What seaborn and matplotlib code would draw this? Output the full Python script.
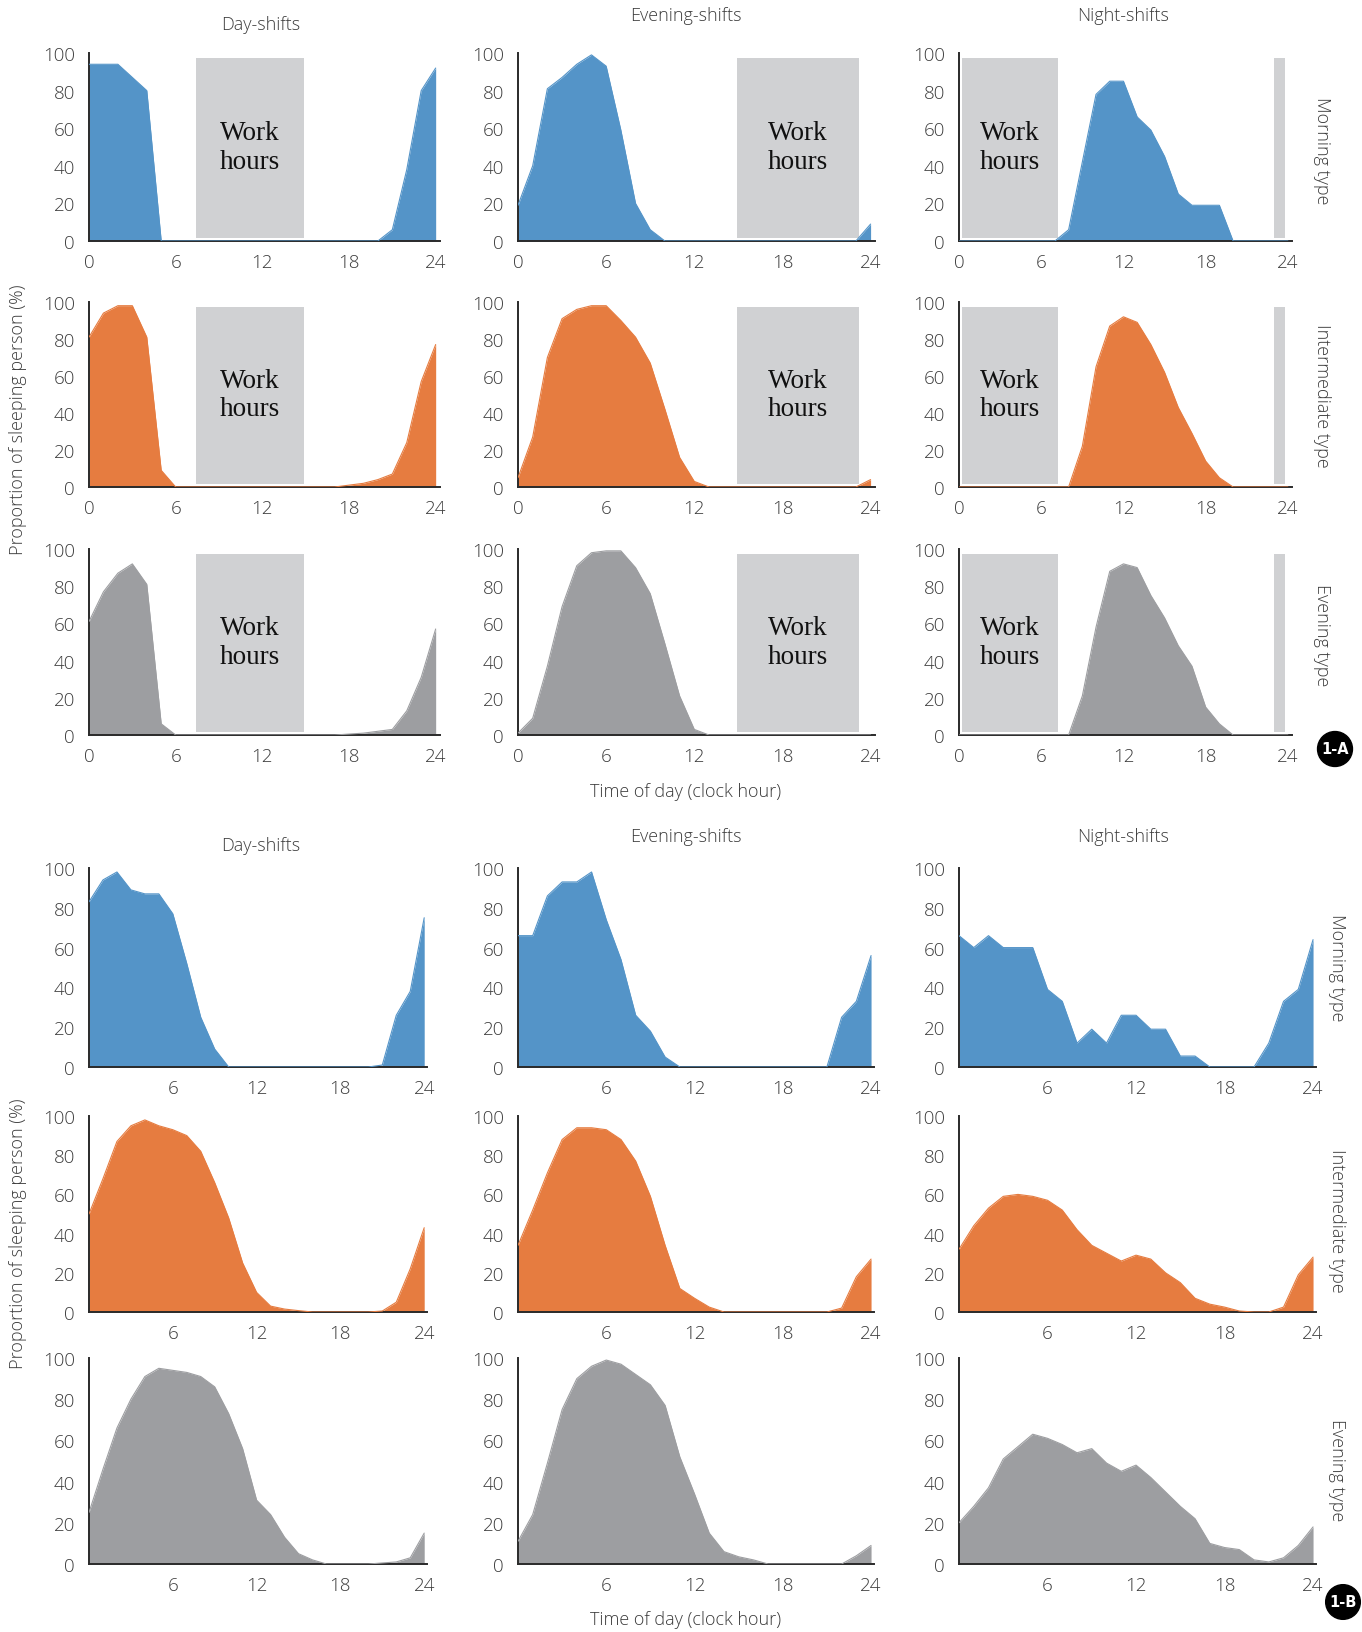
import numpy as np
import pandas as pd
import matplotlib
matplotlib.use("Agg")
import matplotlib.pyplot as plt
from matplotlib.patches import Rectangle
import seaborn as sns

# ---------------- data (hour of day 0..24, % sleeping) ----------------
hours = list(range(25))
shifts = ["Day-shifts", "Evening-shifts", "Night-shifts"]
chronotypes = ["Morning type", "Intermediate type", "Evening type"]
x_ticks_a = [0, 6, 12, 18, 24]
x_ticks_b = [6, 12, 18, 24]
y_ticks = [0, 20, 40, 60, 80, 100]

# Panel 1-A
a_day_morning = [94, 94, 94, 87, 80, 0, 0, 0, 0, 0, 0, 0, 0, 0, 0, 0, 0, 0, 0, 0, 0, 6, 38, 80, 92]
a_day_inter = [81, 94, 98, 98, 81, 9, 0, 0, 0, 0, 0, 0, 0, 0, 0, 0, 0, 0, 1, 2, 4, 7, 24, 57, 77]
a_day_even = [61, 77, 87, 92, 81, 6, 0, 0, 0, 0, 0, 0, 0, 0, 0, 0, 0, 0, 0.5, 1, 2, 3, 13, 31, 57]
a_eve_morning = [19, 40, 81, 87, 94, 99, 93, 59, 20, 6, 0, 0, 0, 0, 0, 0, 0, 0, 0, 0, 0, 0, 0, 0, 9]
a_eve_inter = [5, 27, 70, 91, 96, 98, 98, 90, 81, 67, 42, 16, 3, 0, 0, 0, 0, 0, 0, 0, 0, 0, 0, 0, 4]
a_eve_even = [1, 9, 37, 69, 91, 98, 99, 99, 90, 76, 49, 21, 3, 0, 0, 0, 0, 0, 0, 0, 0, 0, 0, 0, 0]
a_night_morning = [0, 0, 0, 0, 0, 0, 0, 0, 6, 42, 78, 85, 85, 66, 59, 45, 25, 19, 19, 19, 0, 0, 0, 0, 0]
a_night_inter = [0, 0, 0, 0, 0, 0, 0, 0, 0, 22, 65, 87, 92, 89, 77, 62, 43, 29, 14, 5, 0, 0, 0, 0, 0]
a_night_even = [0, 0, 0, 0, 0, 0, 0, 0, 0, 21, 58, 88, 92, 90, 75, 63, 48, 37, 15, 6, 0, 0, 0, 0, 0]

# Panel 1-B
b_day_morning = [83, 94, 98, 89, 87, 87, 77, 52, 25, 9, 0, 0, 0, 0, 0, 0, 0, 0, 0, 0, 0, 1, 26, 38, 75]
b_day_inter = [50, 68, 87, 95, 98, 95, 93, 90, 82, 66, 48, 25, 10, 3, 1.5, 0.7, 0, 0, 0, 0, 0, 0.5, 5, 22, 43]
b_day_even = [25, 46, 66, 80, 91, 95, 94, 93, 91, 86, 73, 56, 31, 24, 13, 5, 2, 0, 0, 0, 0, 0.5, 1, 3, 15]
b_eve_morning = [66, 66, 86, 93, 93, 98, 74, 54, 26, 18, 5, 0, 0, 0, 0, 0, 0, 0, 0, 0, 0, 0, 25, 33, 56]
b_eve_inter = [34, 52, 71, 88, 94, 94, 93, 88, 77, 59, 34, 12, 7, 2.5, 0, 0, 0, 0, 0, 0, 0, 0, 2, 18, 27]
b_eve_even = [11, 24, 49, 75, 90, 96, 99, 97, 92, 87, 77, 52, 34, 15, 6, 3.5, 2, 0, 0, 0, 0, 0, 0, 4, 9]
b_night_morning = [66, 60, 66, 60, 60, 60, 39, 33, 12, 19, 12, 26, 26, 19, 19, 5.5, 5.5, 0, 0, 0, 0, 12, 33, 39, 64]
b_night_inter = [32, 44, 53, 59, 60, 59, 57, 52, 42, 34, 30, 26, 29, 27, 20, 15, 7, 4, 2.5, 0.5, 0, 0, 2.5, 19, 28]
b_night_even = [20, 28, 37, 51, 57, 63, 61, 58, 54, 56, 49, 45, 48, 42, 35, 28, 22, 10, 8, 7, 2, 1, 3, 9, 18]

# Work-hour windows (hours) per shift, shown in panel 1-A
work_day = [(7.4, 14.9)]
work_evening = [(14.9, 23.2)]
work_night = [(0.2, 7.2), (23.0, 23.8)]

# ---------------- styling ----------------
sns.set_theme(style="white")
plt.rcParams["font.family"] = ["Open Sans", "DejaVu Sans"]

W, H = 1362, 1633
fig = plt.figure(figsize=(W / 100, H / 100), dpi=100)
fig.patch.set_facecolor("white")

type_colors = ["#5494c8", "#e67c40", "#9d9ea1"]
box_color = "#d0d1d3"
txt_color = "#3c3c3c"

def px_axes(left, top, right, bottom):
    return fig.add_axes([left / W, 1 - bottom / H, (right - left) / W, (bottom - top) / H])

def ftext(x, y, s, **kw):
    fig.text(x / W, 1 - y / H, s, **kw)

a_data = [[a_day_morning, a_eve_morning, a_night_morning],
          [a_day_inter, a_eve_inter, a_night_inter],
          [a_day_even, a_eve_even, a_night_even]]
b_data = [[b_day_morning, b_eve_morning, b_night_morning],
          [b_day_inter, b_eve_inter, b_night_inter],
          [b_day_even, b_eve_even, b_night_even]]
work = [work_day, work_evening, work_night]

a_cols = [(89, 440), (518, 875), (959, 1292)]
a_rows = [(54, 242), (303, 488), (550, 736)]
b_cols = [(89, 427), (518, 874), (959, 1316)]
b_rows = [(869, 1068), (1117, 1313), (1359, 1565)]

def style_axes(ax, xticks):
    ax.set_xlim(0, 24.3)
    ax.set_ylim(0, 100)
    ax.set_xticks(xticks)
    ax.set_xticklabels([str(t) for t in xticks])
    ax.set_yticks(y_ticks)
    ax.set_yticklabels([str(t) for t in y_ticks])
    for s in ["top", "right"]:
        ax.spines[s].set_visible(False)
    for s in ["left", "bottom"]:
        ax.spines[s].set_color("#2a2a2a")
        ax.spines[s].set_linewidth(1.4)
    ax.tick_params(axis="both", direction="in", length=6, width=1.2, color="#2a2a2a",
                   labelsize=13.5, labelcolor=txt_color)
    ax.tick_params(axis="x", pad=9)
    ax.tick_params(axis="y", pad=10)
    for lab in ax.get_xticklabels() + ax.get_yticklabels():
        lab.set_fontweight("light")
    ax.set_xlabel("")
    ax.set_ylabel("")
    ax.set_facecolor("white")

def draw_panel(ax, vals, color, xticks, spans=None):
    df = pd.DataFrame({"hour": hours, "pct": vals})
    if spans:
        for (s, e) in spans:
            ax.add_patch(Rectangle((s, 1.5), e - s, 96, facecolor=box_color, edgecolor="none", zorder=1))
    ax.fill_between(df["hour"], 0, df["pct"], color=color, linewidth=0, zorder=2)
    sns.lineplot(data=df, x="hour", y="pct", ax=ax, color=color, linewidth=0.8, zorder=3)
    if spans:
        s, e = spans[0]
        ax.text((s + e) / 2, 50, "Work\nhours", ha="center", va="center", fontsize=19.5,
                family=["Liberation Serif", "DejaVu Serif"], color="#111111",
                linespacing=1.2, zorder=4)
    style_axes(ax, xticks)

# Panel A
for r in range(3):
    for c in range(3):
        ax = px_axes(a_cols[c][0], a_rows[r][0], a_cols[c][1], a_rows[r][1])
        draw_panel(ax, a_data[r][c], type_colors[r], x_ticks_a, work[c])
# Panel B
for r in range(3):
    for c in range(3):
        ax = px_axes(b_cols[c][0], b_rows[r][0], b_cols[c][1], b_rows[r][1])
        draw_panel(ax, b_data[r][c], type_colors[r], x_ticks_b, None)
        ax.set_xlim(0, 24.2)

lab_kw = dict(fontsize=13, color=txt_color, fontweight="light", ha="center", va="center")
# column titles
for (x, ya, yb, s) in [(261, 25, 846, shifts[0]), (686, 16, 837, shifts[1]), (1123, 16, 837, shifts[2])]:
    ftext(x, ya, s, **lab_kw)
    ftext(x, yb, s, **lab_kw)
# row labels
for s, ya, yb in zip(chronotypes, [151, 396, 635], [968, 1221, 1470]):
    ftext(1322, ya, s, rotation=-90, **lab_kw)
    ftext(1337, yb, s, rotation=-90, **lab_kw)
# axis labels
ftext(18, 420, "Proportion of sleeping person (%)", rotation=90, **lab_kw)
ftext(18, 1234, "Proportion of sleeping person (%)", rotation=90, **lab_kw)
ftext(686, 792, "Time of day (clock hour)", **lab_kw)
ftext(686, 1620, "Time of day (clock hour)", **lab_kw)
# badges
for (x, y, s) in [(1335, 750, "1-A"), (1343, 1603, "1-B")]:
    ftext(x, y, s, fontsize=10.5, fontweight="bold", color="white", ha="center", va="center",
          family=["DejaVu Sans"],
          bbox=dict(boxstyle="circle,pad=0.25", facecolor="black", edgecolor="black"))

fig.savefig("out.png", dpi=100, facecolor="white")
